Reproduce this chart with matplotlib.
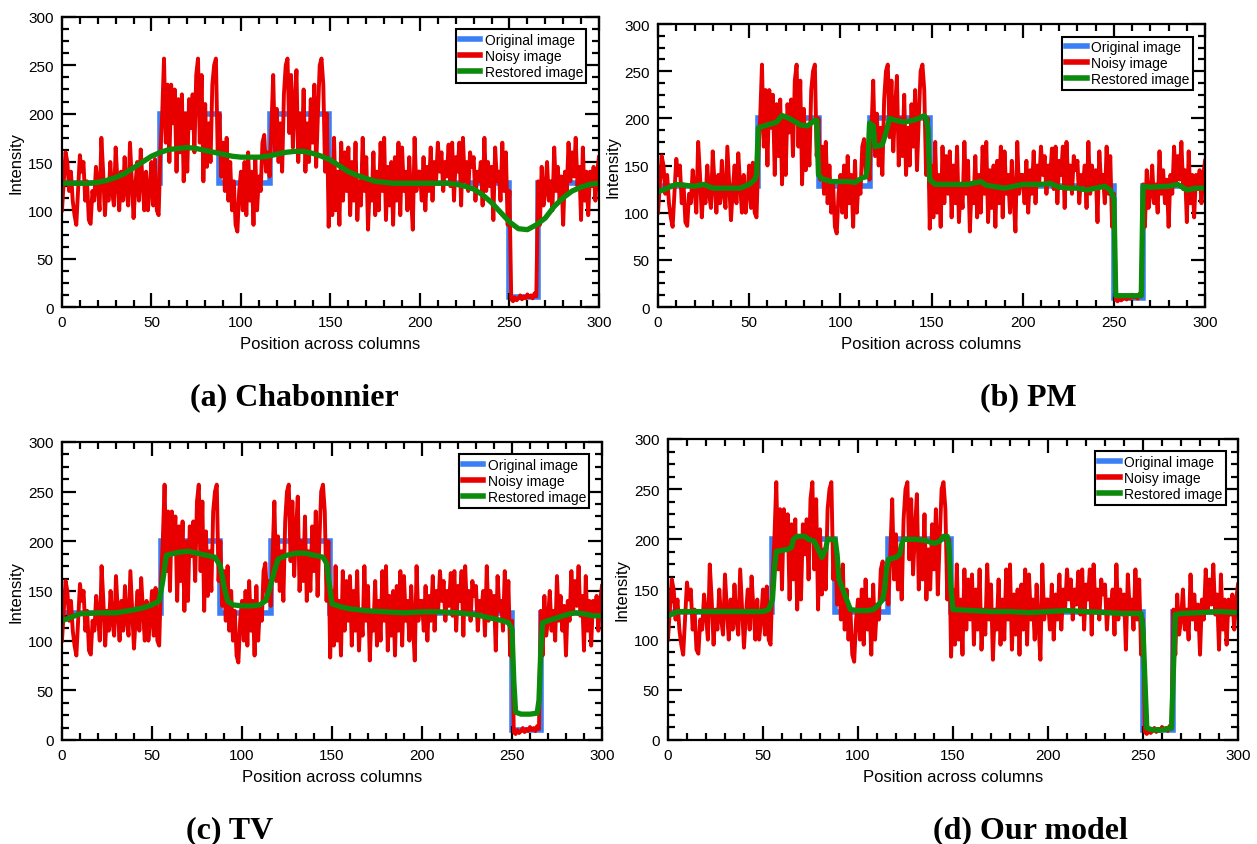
import numpy as np
import matplotlib
matplotlib.use("Agg")
import matplotlib.pyplot as plt
from matplotlib.ticker import MultipleLocator

plt.rcParams['font.family'] = ['Liberation Sans', 'DejaVu Sans']

# positions across columns
positions = np.arange(0, 301)

# original (clean) profile: step levels between edges
orig_edges = [0, 55, 88, 116, 149, 250, 266, 300]
orig_levels = [128, 200, 128, 200, 128, 10, 128]

# noisy profile (one value per column)
noisy = [
    100, 130, 160, 150, 120, 140, 110, 95, 85, 120,
    157, 140, 150, 110, 130, 90, 86, 120, 110, 145,
    125, 100, 175, 140, 95, 130, 110, 150, 120, 105,
    165, 130, 100, 140, 110, 155, 120, 105, 170, 130,
    92, 125, 150, 110, 163, 130, 100, 140, 100, 120,
    150, 105, 153, 100, 95, 160, 200, 257, 170, 230,
    150, 230, 190, 225, 140, 215, 160, 220, 130, 200,
    140, 215, 185, 220, 160, 240, 257, 170, 240, 130,
    210, 145, 190, 150, 230, 250, 257, 160, 200, 135,
    170, 120, 175, 110, 150, 100, 130, 85, 78, 120,
    140, 100, 150, 95, 160, 110, 140, 85, 155, 100,
    135, 120, 170, 178, 140, 160, 135, 185, 240, 160,
    205, 150, 190, 140, 220, 250, 257, 180, 240, 165,
    210, 245, 150, 200, 160, 225, 140, 190, 150, 215,
    170, 230, 145, 200, 250, 257, 230, 140, 200, 83,
    150, 95, 175, 100, 140, 85, 170, 110, 160, 120,
    165, 95, 150, 110, 170, 90, 130, 105, 175, 120,
    155, 80, 130, 110, 160, 95, 140, 100, 170, 120,
    175, 90, 145, 105, 150, 85, 155, 110, 170, 95,
    165, 120, 140, 100, 155, 115, 80, 175, 120, 140,
    140, 110, 155, 100, 145, 120, 165, 110, 150, 130,
    170, 140, 160, 120, 150, 135, 168, 125, 170, 110,
    155, 140, 170, 105, 175, 130, 150, 120, 160, 145,
    155, 110, 140, 130, 150, 105, 175, 120, 150, 125,
    145, 90, 165, 130, 140, 110, 170, 120, 160, 85,
    120, 8, 6, 10, 7, 9, 12, 8, 11, 9,
    13, 10, 12, 9, 14, 11, 130, 85, 145, 105,
    120, 150, 110, 130, 100, 165, 120, 145, 110, 135,
    85, 140, 120, 170, 130, 160, 135, 175, 125, 145,
    90, 165, 110, 140, 95, 140, 125, 145, 110, 140,
    155,
]

# restored profiles
chab_x = [0, 5, 10, 15, 20, 25, 30, 35, 40, 45, 50, 55, 60, 65, 70, 75, 80, 85, 90, 95,
          100, 105, 110, 115, 120, 125, 130, 135, 140, 145, 150, 155, 160, 165, 170, 175,
          180, 185, 190, 195, 200, 205, 210, 215, 220, 225, 230, 235, 240, 245, 250, 255,
          260, 265, 270, 275, 280, 285, 290, 295, 300]
chab_y = [128, 128, 128, 128, 129, 131, 134, 138, 144, 150, 156, 160, 163, 164, 165, 164,
          162, 160, 158, 156, 155, 155, 155, 156, 158, 160, 161, 161, 159, 156, 152, 146,
          140, 136, 133, 130, 129, 128, 128, 128, 128, 128, 128, 128, 127, 125, 122, 116,
          108, 98, 88, 81, 80, 85, 92, 104, 113, 120, 124, 127, 128]

pm_x = [0, 5, 10, 20, 25, 30, 45, 50, 53, 54, 55, 60, 65, 68, 72, 78, 82, 86, 87, 88,
        90, 95, 100, 105, 108, 112, 114, 115, 116, 118, 119, 123, 125, 127, 130, 135,
        140, 143, 146, 147, 148, 149, 152, 160, 170, 177, 180, 190, 195, 200, 210, 215,
        220, 225, 230, 235, 240, 245, 248, 250, 251, 265, 266, 270, 280, 285, 290, 295, 300]
pm_y = [122, 126, 130, 128, 130, 126, 126, 130, 135, 140, 190, 193, 196, 203, 200, 193,
        192, 198, 198, 140, 136, 133, 133, 133, 132, 137, 138, 150, 195, 192, 170, 172,
        185, 200, 198, 196, 198, 200, 203, 200, 190, 135, 130, 130, 130, 133, 129, 126,
        128, 130, 130, 131, 127, 126, 126, 124, 126, 128, 124, 115, 12, 12, 128, 127,
        128, 130, 124, 126, 126]

tv_x = [0, 10, 20, 30, 40, 45, 50, 54, 56, 58, 65, 70, 75, 80, 85, 88, 90, 92, 95, 100,
        105, 110, 113, 115, 118, 120, 125, 130, 135, 140, 145, 147, 149, 150, 155, 160,
        170, 180, 190, 200, 210, 220, 230, 240, 245, 248, 250, 251, 252, 255, 260, 264,
        265, 266, 267, 270, 275, 280, 285, 290, 295, 300]
tv_y = [120, 127, 128, 128, 131, 133, 136, 140, 160, 186, 189, 190, 188, 186, 184, 175,
        155, 140, 136, 135, 135, 136, 140, 150, 170, 182, 186, 188, 188, 186, 184, 178,
        150, 137, 134, 132, 130, 129, 128, 129, 129, 128, 126, 122, 120, 118, 112, 60,
        28, 26, 26, 27, 40, 90, 118, 120, 123, 126, 128, 127, 125, 125]

our_x = [0, 3, 5, 20, 40, 50, 53, 55, 56, 57, 60, 63, 65, 66, 68, 72, 74, 77, 79, 81,
         83, 84, 88, 89, 90, 92, 94, 96, 100, 105, 108, 110, 113, 114, 115, 116, 120,
         122, 123, 124, 130, 135, 140, 143, 145, 147, 148, 149, 150, 160, 170, 180, 190,
         200, 210, 220, 230, 240, 249, 250, 251, 252, 255, 260, 265, 266, 267, 270, 280,
         290, 300]
our_y = [124, 126, 128, 128, 128, 128, 130, 140, 170, 188, 189, 190, 192, 200, 203, 203,
         200, 198, 190, 182, 190, 200, 200, 185, 160, 150, 140, 130, 129, 129, 130, 133,
         140, 150, 170, 180, 182, 185, 195, 200, 200, 199, 196, 198, 203, 203, 190, 150,
         130, 129, 128, 128, 127, 128, 129, 128, 127, 126, 126, 110, 60, 12, 10, 10, 12,
         70, 125, 126, 127, 128, 127]

restored = [
    (chab_x, chab_y, "(a) Chabonnier"),
    (pm_x, pm_y, "(b) PM"),
    (tv_x, tv_y, "(c) TV"),
    (our_x, our_y, "(d) Our model"),
]

# axes rectangles (fig fractions) and caption positions
rects = [
    [0.0493, 0.6355, 0.4272, 0.3432],
    [0.5235, 0.6355, 0.4352, 0.3349],
    [0.0493, 0.1231, 0.4296, 0.3527],
    [0.5314, 0.1231, 0.4535, 0.3562],
]
caption_pos = [(0.234, 0.5207), (0.818, 0.5207), (0.183, 0.0083), (0.82, 0.0083)]

blue = '#3a7ff6'
red = '#e80000'
green = '#0c8a0c'

fig = plt.figure(figsize=(12.57, 8.45), dpi=100)

for i in range(4):
    ax = fig.add_axes(rects[i])
    rx, ry, cap = restored[i]
    ax.stairs(orig_levels, orig_edges, baseline=None, color=blue, lw=4, label="Original image")
    ax.plot(positions, noisy, color=red, lw=2.8, label="Noisy image")
    ax.plot(rx, ry, color=green, lw=3.8, label="Restored image")

    ax.set_xlim(0, 300)
    ax.set_ylim(0, 300)
    ax.xaxis.set_major_locator(MultipleLocator(50))
    ax.xaxis.set_minor_locator(MultipleLocator(10))
    ax.yaxis.set_major_locator(MultipleLocator(50))
    ax.yaxis.set_minor_locator(MultipleLocator(12.5))
    ax.tick_params(which='both', direction='in', top=True, right=True, width=1.6,
                   labelsize=11)
    ax.tick_params(which='major', length=10, pad=6)
    ax.tick_params(which='minor', length=5)
    for sp in ax.spines.values():
        sp.set_linewidth(1.6)
    ax.set_xlabel("Position across columns", fontsize=12, labelpad=5)
    ax.set_ylabel("Intensity", fontsize=12, labelpad=3)

    leg = ax.legend(loc='upper right', fontsize=10, handlelength=1.5, handletextpad=0.3,
                    labelspacing=0.15, borderpad=0.25, borderaxespad=0.9,
                    fancybox=False, edgecolor='black', framealpha=1)
    leg.get_frame().set_linewidth(1.5)
    for h in leg.get_lines():
        h.set_linewidth(4)

    fig.text(caption_pos[i][0], caption_pos[i][1], cap, ha='center', va='baseline',
             family='Liberation Serif', fontweight='bold', fontsize=23)

fig.savefig("out.png", dpi=100)
